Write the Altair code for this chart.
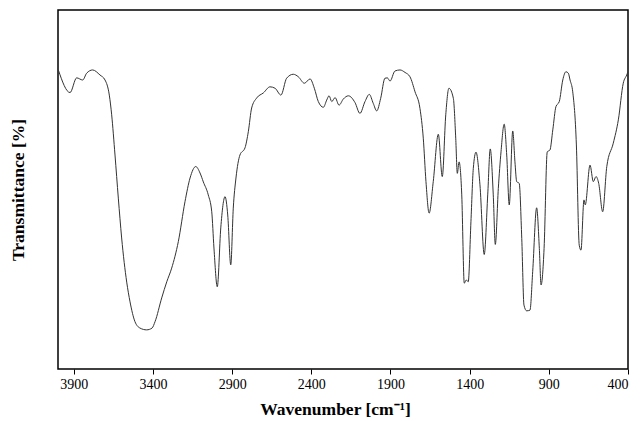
import altair as alt
import pandas as pd

wavenumber = [3998, 3924, 3882, 3844, 3819, 3781, 3735, 3703, 3676, 3661,
              3640, 3619, 3598, 3566, 3545, 3514, 3482, 3440, 3406, 3387,
              3345, 3313, 3282, 3240, 3198, 3166, 3130, 3103, 3082, 3051,
              3029, 3015, 2994, 2972, 2945, 2928, 2909, 2893, 2876, 2851,
              2819, 2798, 2777, 2745, 2703, 2661, 2629, 2592, 2556, 2514,
              2482, 2444, 2408, 2381, 2356, 2324, 2303, 2288, 2271, 2250,
              2225, 2198, 2166, 2124, 2093, 2061, 2034, 2009, 1987, 1962,
              1935, 1920, 1903, 1872, 1840, 1808, 1777, 1745, 1714, 1693,
              1676, 1656, 1630, 1598, 1573, 1551, 1531, 1503, 1488, 1478,
              1467, 1450, 1434, 1421, 1409, 1392, 1377, 1360, 1335, 1308,
              1286, 1270, 1251, 1238, 1219, 1202, 1182, 1166, 1150, 1128,
              1114, 1103, 1087, 1071, 1057, 1040, 1019, 1002, 977, 960,
              949, 930, 910, 893, 875, 855, 834, 812, 792, 777,
              766, 749, 726, 708, 697, 678, 670, 640, 619, 602,
              585, 560, 534, 493, 461, 430, 408, 400]

transmittance = [83.3, 77.0, 81.1, 80.5, 82.4, 83.3, 81.9, 80.5, 76.3, 70.8,
                 59.6, 47.6, 36.5, 24.2, 18.7, 13.2, 11.4, 10.9, 11.4, 13.2,
                 19.8, 24.3, 28.1, 35.5, 46.6, 53.2, 56.4, 54.6, 52.1, 48.5,
                 43.8, 33.7, 22.9, 39.3, 48.0, 42.9, 29.0, 44.8, 53.2, 59.6,
                 61.6, 66.1, 72.7, 75.5, 76.9, 78.6, 78.2, 76.3, 81.0, 82.1,
                 81.4, 79.6, 80.8, 78.2, 74.5, 72.9, 74.9, 76.1, 74.5, 75.6,
                 73.5, 75.2, 76.1, 74.2, 71.2, 74.5, 76.5, 74.0, 71.9, 75.4,
                 81.0, 81.1, 80.2, 83.0, 83.3, 82.6, 81.4, 77.2, 72.6, 64.3,
                 52.2, 43.4, 52.2, 65.4, 53.6, 70.8, 78.2, 75.4, 64.3, 54.5,
                 57.7, 48.5, 23.9, 24.8, 24.3, 41.0, 55.9, 60.4, 51.3, 31.9,
                 48.5, 61.3, 48.5, 34.7, 50.3, 60.5, 68.2, 59.6, 45.7, 66.3,
                 57.7, 52.2, 51.7, 36.4, 17.8, 16.2, 16.4, 27.1, 44.9, 33.6,
                 23.4, 33.6, 60.5, 61.0, 66.6, 73.1, 74.5, 80.5, 82.8, 82.4,
                 80.5, 77.2, 62.4, 34.5, 33.1, 47.1, 45.7, 56.8, 52.2, 53.6,
                 51.7, 43.8, 56.4, 62.9, 69.4, 79.6, 81.9, 82.8]

x_ticks = [3900, 3400, 2900, 2400, 1900, 1400, 900, 400]

df = pd.DataFrame({"wn": wavenumber, "T": transmittance})

chart = alt.Chart(df).mark_line(
    interpolate="monotone", color="#333333", strokeWidth=1
).encode(
    x=alt.X("wn:Q",
            scale=alt.Scale(domain=[400, 4000], reverse=True, nice=False, zero=False),
            axis=alt.Axis(values=x_ticks, title="Wavenumber [cm⁻¹]", grid=False,
                          domain=False, tickColor="black", tickSize=5,
                          labelFont="Liberation Serif", labelFontSize=14,
                          labelColor="black", labelPadding=3,
                          titleFont="Liberation Serif", titleFontSize=17.5,
                          titleFontWeight="bold", titleColor="black",
                          titlePadding=9, titleX=277, titleAlign="center",
                          format="d")),
    y=alt.Y("T:Q", scale=alt.Scale(domain=[0, 100], nice=False),
            axis=alt.Axis(title="Transmittance [%]", grid=False, domain=False,
                          ticks=False, labels=False,
                          titleFont="Liberation Serif", titleFontSize=17.5,
                          titleFontWeight="bold", titleColor="black",
                          titlePadding=31)),
).properties(
    width=570, height=359,
    autosize=alt.AutoSizeParams(type="none"),
    padding={"left": 58, "top": 10, "right": 12, "bottom": 52},
).configure(
    background="white"
).configure_view(
    stroke="black", strokeWidth=1.5
)

chart.save("out.html", embed_options={"renderer": "svg", "actions": False})
